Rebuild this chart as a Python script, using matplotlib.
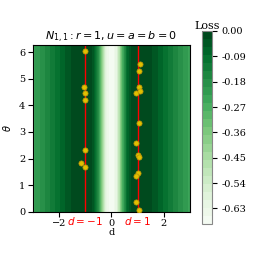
import matplotlib
matplotlib.use('Agg')
import matplotlib.pyplot as plt
import numpy as np

plt.rcParams['font.family'] = 'DejaVu Serif'
plt.rcParams['font.size'] = 7

d_half = [0.0, 0.1, 0.2, 0.3, 0.4, 0.5, 0.6, 0.7, 0.8, 0.9, 1.0,
          1.1, 1.2, 1.3, 1.4, 1.5, 1.6, 1.7, 1.8, 1.9, 2.0,
          2.1, 2.2, 2.3, 2.4, 2.5, 2.6, 2.7, 2.8, 2.9, 3.0]
loss_half = [-0.68, -0.66, -0.60, -0.48, -0.32, -0.18, -0.09, -0.04, -0.015, -0.004, 0.0,
             -0.002, -0.006, -0.012, -0.018, -0.025, -0.035, -0.047, -0.06, -0.075, -0.09,
             -0.105, -0.12, -0.135, -0.15, -0.165, -0.18, -0.195, -0.21, -0.225, -0.24]

# found minima (d, theta)
pts_d = [-1.0, -1.05, -1.02, -1.0, -1.0, -1.15, -1.0,
         1.1, 1.05, 1.05, 0.95, 1.1, 1.05, 0.95, 1.0, 1.05, 1.0, 0.93, 0.95, 1.05]
pts_th = [6.03, 4.68, 4.47, 4.22, 2.33, 1.85, 1.70,
          5.55, 5.28, 4.70, 4.48, 4.53, 3.33, 2.58, 2.15, 2.07, 1.47, 1.33, 0.38, 0.08]

cbar_ticks = [0.0, -0.09, -0.18, -0.27, -0.36, -0.45, -0.54, -0.63]

d_full = np.concatenate([-np.array(d_half[::-1]), np.array(d_half[1:])])
loss_full = np.concatenate([np.array(loss_half[::-1]), np.array(loss_half[1:])])
theta = np.array([0, 2*np.pi])
Z = np.tile(loss_full, (2, 1))

fig = plt.figure(figsize=(2.58, 2.58), dpi=100)
ax = fig.add_axes([0.127, 0.179, 0.609, 0.648])
cax = fig.add_axes([0.783, 0.132, 0.039, 0.748])

levels = np.linspace(-0.685, 0.0, 25)
cs = ax.contourf(d_full, theta, Z, levels=levels, cmap='Greens')
ax.axvline(-1, color='red', lw=1)
ax.axvline(1, color='red', lw=1)
ax.scatter(pts_d, pts_th, s=14, color='#e0c000', edgecolor='#b8900b', lw=0.5, zorder=3)

ax.set_xlim(-3, 3)
ax.set_ylim(0, 2*np.pi)
ax.set_xticks([-2, 0, 2])
ax.set_yticks([0, 1, 2, 3, 4, 5, 6])
ax.tick_params(pad=2)
ax.set_xlabel('d', labelpad=0)
ax.set_ylabel(r'$\theta$')
ax.set_title(r'$N_{1,1}: r=1, u=a=b=0$', fontsize=8, pad=3)

trans = matplotlib.transforms.blended_transform_factory(ax.transData, ax.transAxes)
ax.text(-1, -0.055, r'$d=-1$', color='red', ha='center', va='center', transform=trans, fontsize=7.5)
ax.text(1, -0.055, r'$d=1$', color='red', ha='center', va='center', transform=trans, fontsize=7.5)

cb = fig.colorbar(cs, cax=cax, ticks=cbar_ticks)
cb.ax.set_yticklabels(['%.2f' % t for t in cbar_ticks])
cb.outline.set_edgecolor('#888888')
cb.ax.set_title('Loss', fontsize=8, pad=1)

fig.savefig('out.png', dpi=100)
